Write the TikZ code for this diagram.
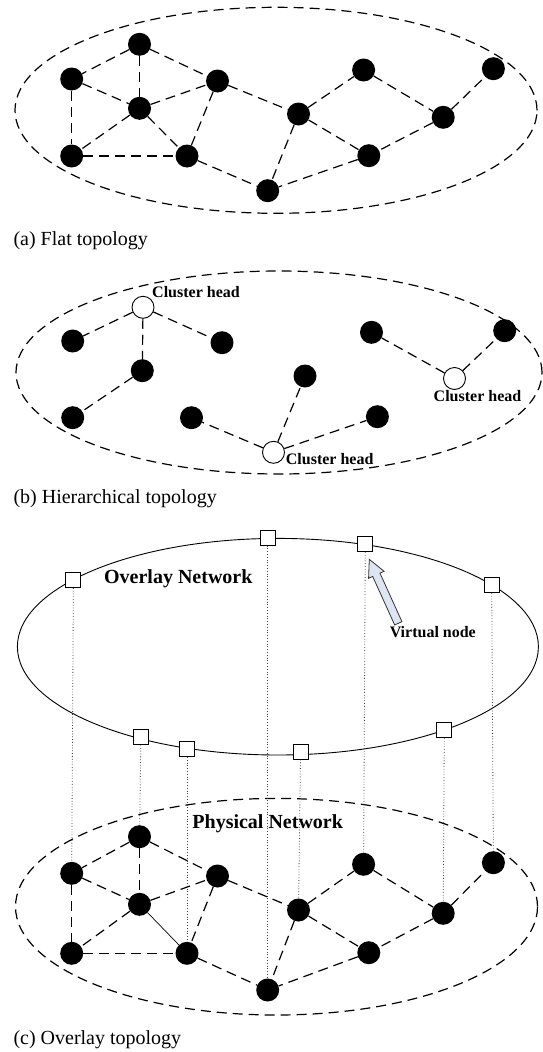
\documentclass[tikz,border=0pt]{standalone}
\usepackage{fontspec}
\setmainfont{Liberation Serif}
\usetikzlibrary{shapes, calc}
\usepackage{xcolor}
\definecolor{arrowfill}{RGB}{221,229,243}

\begin{document}
\begin{tikzpicture}[x=1pt, y=-1pt]
						\tikzstyle{peer}=[
						circle,
						fill=black,
						minimum size=23pt,
						inner sep=0pt
						]
						\tikzstyle{head}=[
						circle,
						draw,
						fill=white,
						line width=0.9pt,
						minimum size=22pt,
						inner sep=0pt
						]
						\tikzstyle{vnode}=[
						rectangle,
						draw,
						fill=white,
						line width=0.9pt,
						minimum size=15pt,
						inner sep=0pt
						]
						\tikzstyle{link}=[dash pattern=on 10pt off 6pt, line width=1.2pt]
						\tikzstyle{map}=[dotted, black!75, line width=0.8pt]
						\tikzstyle{caption}=[anchor=base west, inner sep=0pt, font=\fontsize{20}{24}\selectfont]
						\tikzstyle{nettitle}=[inner sep=0pt, font=\bfseries\fontsize{20}{24}\selectfont]
						\tikzstyle{tag}=[inner sep=0pt, font=\bfseries\fontsize{16}{19}\selectfont]
						\useasboundingbox (0,0) rectangle (543,1052);
						%
						% (a) flat
						\draw[link] (276,110.3) ellipse [x radius=261pt, y radius=103pt];
						\node[peer] (A1) at (139.5,44.3) {};
						\node[peer] (A2) at (71.7,79) {};
						\node[peer] (A3) at (217.5,81) {};
						\node[peer] (A4) at (139.5,108.3) {};
						\node[peer] (A5) at (363.6,70) {};
						\node[peer] (A6) at (493.4,68.7) {};
						\node[peer] (A7) at (298.5,114) {};
						\node[peer] (A8) at (443.2,117.3) {};
						\node[peer] (A9) at (71.7,156) {};
						\node[peer] (A10) at (187,156) {};
						\node[peer] (A11) at (368.8,155.7) {};
						\node[peer] (A12) at (267.7,190.7) {};
						\foreach \u/\v in {A1/A2, A1/A4, A1/A3, A2/A4, A2/A9, A4/A3, A4/A9, A4/A10, A3/A10, A3/A7,
							A9/A10, A10/A12, A7/A5, A7/A11, A7/A12, A5/A8, A8/A6, A8/A11, A11/A12}
						\draw[link] (\u) -- (\v);
						\node[caption] (CAPA) at (13.3,245) {(a) Flat topology};
						%
						% (b) hierarchical
						\draw[link] (279,372.5) ellipse [x radius=263pt, y radius=101.5pt];
						\node[head] (H1) at (143,307.3) {};
						\node[head] (H2) at (273.5,452.3) {};
						\node[head] (H3) at (454.5,378.5) {};
						\node[peer] (B1) at (72.7,341) {};
						\node[peer] (B2) at (222,342.7) {};
						\node[peer] (B3) at (142.3,370.7) {};
						\node[peer] (B4) at (72.7,417.7) {};
						\node[peer] (B5) at (191.5,417.7) {};
						\node[peer] (B6) at (305,376) {};
						\node[peer] (B7) at (377.4,416.7) {};
						\node[peer] (B8) at (371.5,332.3) {};
						\node[peer] (B9) at (504.7,330.7) {};
						\foreach \u/\v in {H1/B1, H1/B2, H1/B3, B3/B4, H2/B5, H2/B6, H2/B7, H3/B8, H3/B9}
						\draw[link] (\u) -- (\v);
						\node[tag, anchor=base west] (HL1) at (152,297) {Cluster head};
						\node[tag, anchor=base west] (HL2) at (285.7,464.5) {Cluster head};
						\node[tag, anchor=base west] (HL3) at (433.5,401.7) {Cluster head};
						\node[caption] (CAPB) at (13.3,503) {(b) Hierarchical topology};
						%
						% (c) overlay
						\draw[line width=0.9pt] (277.9,646.7) ellipse [x radius=260.5pt, y radius=108.3pt];
						\draw[link] (276.5,906.7) ellipse [x radius=261pt, y radius=108.3pt];
						\node[peer] (C1) at (139.5,836.7) {};
						\node[peer] (C2) at (71.7,873.3) {};
						\node[peer] (C3) at (217.5,876) {};
						\node[peer] (C4) at (139.5,904.3) {};
						\node[peer] (C5) at (363.6,864.3) {};
						\node[peer] (C6) at (493.4,862.7) {};
						\node[peer] (C7) at (298.5,910) {};
						\node[peer] (C8) at (443.2,913.3) {};
						\node[peer] (C9) at (71.7,953.3) {};
						\node[peer] (C10) at (187,953.3) {};
						\node[peer] (C11) at (368.8,952.7) {};
						\node[peer] (C12) at (267.7,990) {};
						\node[vnode] (S1) at (73.4,580) {};
						\node[vnode] (S2) at (267.7,537.7) {};
						\node[vnode] (S3) at (365.3,544) {};
						\node[vnode] (S4) at (491.7,585) {};
						\node[vnode] (S5) at (140.9,737.3) {};
						\node[vnode] (S6) at (187,749) {};
						\node[vnode] (S7) at (300.6,751.7) {};
						\node[vnode] (S8) at (444.3,730) {};
						\foreach \u/\v in {S1/C2, S5/C1, S6/C10, S2/C12, S7/C7, S3/C5, S8/C8, S4/C6}
						\draw[map] (\u) -- (\v);
						\foreach \u/\v in {C1/C2, C1/C4, C1/C3, C2/C4, C2/C9, C4/C3, C4/C9, C3/C10, C3/C7,
							C9/C10, C10/C12, C7/C5, C7/C11, C7/C12, C5/C8, C8/C6, C8/C11, C11/C12}
						\draw[link] (\u) -- (\v);
						\draw[line width=0.7pt] (C4) -- (C10);
						\node[nettitle] (OVL) at (178.3,579) {Overlay Network};
						\node[nettitle] (PHY) at (267.7,823.3) {Physical Network};
						\node[tag] (VLBL) at (432.8,631.7) {Virtual node};
						% hollow arrow from label to virtual node
						\coordinate (AT) at (398.3,623.3);
						\coordinate (AP) at (369.3,559.3);
						\coordinate (AB) at ($(AP)!17pt!(AT)$);
						\draw[fill=arrowfill, draw=black!80, line width=0.8pt, line join=miter]
						($(AT)!4pt!90:(AP)$) -- ($(AB)!4pt!-90:(AT)$) -- ($(AB)!8.5pt!-90:(AT)$) -- (AP)
						-- ($(AB)!8.5pt!90:(AT)$) -- ($(AB)!4pt!90:(AT)$) -- ($(AT)!4pt!-90:(AP)$) -- cycle;
						\node[caption] (CAPC) at (13.3,1044) {(c) Overlay topology};
					\end{tikzpicture}
\end{document}
